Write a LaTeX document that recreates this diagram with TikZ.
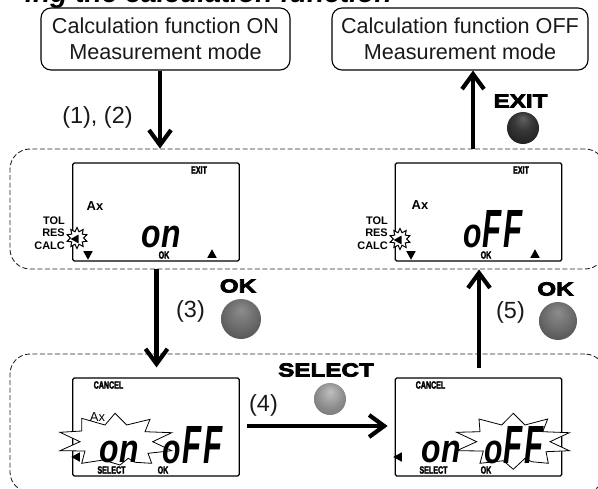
\documentclass[tikz,border=0pt]{standalone}
\usepackage{fontspec}
\setmainfont{Liberation Sans}
\newfontfamily\heavyf[FakeBold=4,FakeStretch=1.28]{Liberation Sans Bold}
\newfontfamily\lcdf[FakeBold=2.5,FakeStretch=0.68]{Liberation Sans Bold}
\newfontfamily\bdf{Liberation Sans Bold}
\newfontfamily\segf{Liberation Sans Bold Italic}
\newfontfamily\titlef{Liberation Sans Bold Italic}
\usetikzlibrary{arrows.meta,shapes.geometric}
\pgfdeclareradialshading{ballok}{\pgfpoint{0bp}{12bp}}{color(0bp)=(black!45); color(22bp)=(black!60); color(44bp)=(black!76); color(50bp)=(black!50)}
\pgfdeclareradialshading{ballexit}{\pgfpoint{0bp}{15bp}}{color(0bp)=(black!62); color(14bp)=(black!78); color(40bp)=(black!92); color(50bp)=(black!80)}
\pgfdeclareradialshading{ballsel}{\pgfpoint{0bp}{12bp}}{color(0bp)=(black!25); color(22bp)=(black!46); color(44bp)=(black!60); color(50bp)=(black!30)}
\tikzset{
  modebox/.style={draw=black,line width=1.1bp,rounded corners=10bp,inner sep=0pt,align=center,font=\fontsize{21.7}{26}\selectfont,text=black!90},
  region/.style={draw=black!85,line width=0.9bp,dash pattern=on 5bp off 2.5bp,rounded corners=20bp,inner sep=0pt},
  lcd/.style={draw=black,line width=1.2bp,rounded corners=1.5bp,inner sep=0pt,minimum width=166.5bp,minimum height=98bp},
  flow/.style={line width=4.4bp,black,-{Straight Barb[length=15bp,width=22bp,line width=4.2bp]}},
  lab/.style={inner sep=0pt,font=\fontsize{23.5}{28}\selectfont,text=black!90},
  heavylab/.style={inner sep=0pt,font=\heavyf\fontsize{19}{22}\selectfont},
  tinylab/.style={inner sep=0pt,font=\lcdf\fontsize{10.5}{12}\selectfont},
  side/.style={inner sep=0pt,anchor=east,font=\bdf\fontsize{11}{13}\selectfont},
  axlab/.style={inner sep=0pt,font=\bdf\fontsize{13}{15}\selectfont},
  burst/.style={draw=black,fill=white,line width=0.8bp,line join=miter},
  spark/.style={star,star points=10,star point ratio=1.6,draw=black,fill=white,line width=1bp,minimum size=21bp,inner sep=0pt},
  seg/.style={inner sep=0pt,anchor=base,font=\segf},
  tipmark/.style={fill=black,isosceles triangle,isosceles triangle apex angle=58,inner sep=0pt,minimum size=8.5bp}
}
\newcommand{\onword}{\scalebox{.8}[1]{\fontsize{40}{46}\selectfont on}}
\newcommand{\offword}{\scalebox{.72}[1]{\fontsize{42}{46}\selectfont o}\kern1bp\scalebox{.58}[1]{\fontsize{54}{46}\selectfont F}\kern2bp\scalebox{.58}[1]{\fontsize{54}{46}\selectfont F}}
\begin{document}
\begin{tikzpicture}[x=1bp,y=-1bp]
\useasboundingbox (0,0) rectangle (598,489);
\clip (0,0) rectangle (598,489);
\node[inner sep=0pt,anchor=base west,font=\titlef\fontsize{28.3}{28}\selectfont] (title) at (25,3) {ing the calculation function};

\node[modebox,minimum width=249bp,minimum height=62bp] (on) at (165.5,39) {Calculation function ON\\Measurement mode};
\node[modebox,minimum width=256bp,minimum height=62bp] (off) at (460,39) {Calculation function OFF\\Measurement mode};

\node[region,minimum width=595bp,minimum height=120bp] (ra) at (307.5,209) {};
\node[region,minimum width=595bp,minimum height=138bp] (rb) at (307.5,423) {};

% LCD frames
\node[lcd] (l1) at (156,212) {};
\node[lcd] (l2) at (478.5,212) {};
\node[lcd] (l3) at (156,427) {};
\node[lcd] (l4) at (478.5,427) {};

% connectors
\coordinate (xa) at (160,0);
\coordinate (xb) at (156.5,0);
\coordinate (xc) at (473,0);
\coordinate (xd) at (479,0);
\coordinate (yy) at (0,426);
\draw[flow] (on.south-|xa) -- (ra.north-|xa);
\draw[flow] (ra.south-|xb) -- ([yshift=10bp]l3.north-|xb);
\draw[flow] (ra.north-|xc) -- (off.south-|xc);
\draw[flow] ([yshift=9bp]l4.north-|xd) -- (ra.south-|xd);
\draw[flow] ([xshift=7bp]l3.east|-yy) -- ([xshift=-7bp]l4.west|-yy);

% labels
\node[lab] (t12) at (97.5,117) {(1), (2)};
\node[lab] (t3) at (190.5,311) {(3)};
\node[lab] (t4) at (263.5,405) {(4)};
\node[lab] (t5) at (510.5,312) {(5)};

\node[heavylab] (hexit) at (520.5,101) {EXIT};
\node[heavylab] (hok1) at (238,286) {OK};
\node[heavylab] (hsel) at (326,370) {SELECT};
\node[heavylab] (hok2) at (555.5,289) {OK};

\shade[shading=ballexit] (523,128) circle (16bp);
\shade[shading=ballok] (241,319) circle (20bp);
\shade[shading=ballsel] (330,399) circle (16bp);
\shade[shading=ballok] (558,321) circle (19bp);

% LCD 1
\node[tinylab] (e1) at (199,170) {EXIT};
\node[axlab] (a1) at (95,206) {Ax};
\node[side] (tol1) at (65,221) {TOL};
\node[side] (res1) at (65,233) {RES};
\node[side] (calc1) at (65,246) {CALC};
\node[spark] (s1) at (77,238) {};
\node[tipmark,shape border rotate=180,minimum size=8bp] (b1) at (76,239) {};
\node[tipmark,shape border rotate=-90] (d1) at (88,254) {};
\node[tinylab] (k1) at (164,255) {OK};
\node[tipmark,shape border rotate=90] (u1) at (212,255) {};
\node[seg] (w1) at (161,247) {\onword};

% LCD 2
\node[tinylab] (e2) at (521,170) {EXIT};
\node[axlab] (a2) at (420,205) {Ax};
\node[side] (tol2) at (388,221) {TOL};
\node[side] (res2) at (388,233) {RES};
\node[side] (calc2) at (388,246) {CALC};
\node[spark] (s2) at (400,239) {};
\node[tipmark,shape border rotate=180,minimum size=8bp] (b2) at (399,240) {};
\node[tipmark,shape border rotate=-90] (d2) at (411,254) {};
\node[tinylab] (k2) at (486,255) {OK};
\node[tipmark,shape border rotate=90] (u2) at (535,255) {};
\node[seg] (w2) at (493,247) {\offword};

% LCD 3
\draw[burst] (60,432.3)--(81.7,431)--(81.7,418.3)--(105,425)--(115,413.3)--(126.7,425)--(150,419.3)--(145,431.7)--(171.7,432.7)--(152.7,441.7)--(171.7,450.7)--(148,453.3)--(151.7,463.3)--(135,462.3)--(128.3,458.3)--(120,465)--(103.3,460)--(81.7,463.3)--(85,451)--(60,450.7)--(80,441.7)--cycle;
\node[tinylab] (c3) at (108.5,385) {CANCEL};
\node[inner sep=0pt,font=\fontsize{13}{15}\selectfont] (a3) at (97.5,417) {Ax};
\node[tipmark,shape border rotate=180] (b3) at (77,457) {};
\node[seg] (w3a) at (119,462) {\onword};
\node[seg] (w3b) at (192.5,463) {\offword};
\node[tinylab] (se3) at (111.5,470) {SELECT};
\node[tinylab] (k3) at (163,470) {OK};

% LCD 4
\draw[burst] (456.7,432.3)--(480,431.7)--(479,419)--(501.7,425)--(513.3,413.3)--(525,425)--(547.7,419)--(542.7,431.7)--(569.3,432.7)--(550,441.7)--(569.3,450.7)--(546,451.7)--(548.3,463.3)--(531.7,461.7)--(525,458.3)--(513.3,469.3)--(503.3,460.7)--(480,463.3)--(483.3,451)--(456.7,450.7)--(476.7,441.7)--cycle;
\node[tinylab] (c4) at (430.5,385) {CANCEL};
\node[tipmark,shape border rotate=180] (b4) at (399,457) {};
\node[seg] (w4a) at (441,462) {\onword};
\node[seg] (w4b) at (514,463) {\offword};
\node[tinylab] (se4) at (433.5,470) {SELECT};
\node[tinylab] (k4) at (486,470) {OK};
\end{tikzpicture}
\end{document}
